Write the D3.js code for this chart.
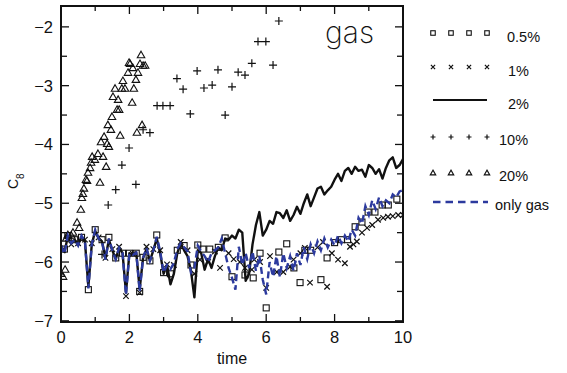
<!DOCTYPE html>
<html><head><meta charset="utf-8">
<script src="https://cdn.jsdelivr.net/npm/d3@7"></script>
<style>
html,body{margin:0;padding:0;background:#fff;}
svg{display:block;}
text{font-family:"Liberation Sans",Arial,sans-serif;fill:#111;}
</style></head>
<body>
<svg id="chart" width="567" height="373"></svg>
<script>
// ---------------- data ----------------
const xTicks = [0, 2, 4, 6, 8, 10];
const yTicks = [-7, -6, -5, -4, -3, -2];
const seriesLabels = ["0.5%", "1%", "2%", "10%", "20%", "only gas"];
const panelLabel = "gas";

// time grid for the two line series (step 0.1 from 0 to 10)
const lineTime = d3.range(0, 101).map(i => +(i / 10).toFixed(1));

// 2% (solid line)
const c2 = [
 -5.72,-5.83,-5.57,-5.68,-5.62,-5.70,-5.57,-5.65,-6.42,-5.70,
 -5.47,-5.60,-5.65,-5.93,-5.62,-5.80,-5.95,-5.76,-5.85,-6.52,
 -5.85,-5.88,-5.84,-6.46,-5.93,-5.78,-5.98,-5.80,-5.60,-5.85,
 -6.20,-6.05,-6.38,-6.20,-5.85,-5.68,-5.80,-5.90,-6.15,-6.60,
 -5.80,-5.85,-6.13,-5.95,-6.10,-5.90,-5.75,-5.80,-5.60,-5.62,
 -5.55,-5.60,-5.45,-5.50,-6.32,-6.20,-5.70,-5.37,-5.15,-5.55,
 -5.45,-5.30,-5.35,-5.15,-5.17,-5.25,-5.12,-5.30,-5.20,-5.06,
 -5.18,-5.00,-4.85,-5.05,-4.90,-4.75,-4.72,-4.85,-4.78,-4.72,
 -4.60,-4.50,-4.62,-4.45,-4.40,-4.50,-4.38,-4.45,-4.43,-4.55,
 -4.35,-4.40,-4.50,-4.42,-4.58,-4.40,-4.27,-4.22,-4.40,-4.35,
 -4.25];

// only gas (blue dashed)
const cGas = [
 -5.72,-5.86,-5.55,-5.68,-5.62,-5.72,-5.55,-5.65,-6.45,-5.70,
 -5.45,-5.60,-5.66,-5.96,-5.60,-5.80,-5.95,-5.76,-5.85,-6.56,
 -5.85,-5.88,-5.84,-6.50,-5.93,-5.76,-5.98,-5.80,-5.57,-5.82,
 -6.18,-6.05,-6.12,-6.02,-5.78,-5.68,-5.75,-5.82,-6.18,-6.10,
 -5.72,-5.82,-5.90,-6.00,-5.85,-5.80,-5.75,-5.60,-5.85,-6.10,
 -6.27,-6.47,-5.74,-6.05,-5.85,-6.10,-5.82,-6.15,-5.90,-6.30,
 -6.55,-6.00,-6.25,-5.90,-6.25,-5.85,-6.10,-5.90,-6.15,-5.85,
 -6.05,-5.75,-5.95,-5.70,-5.85,-5.65,-5.80,-5.60,-5.75,-5.62,
 -5.72,-5.55,-5.68,-5.55,-5.65,-5.45,-5.55,-5.25,-5.35,-5.05,
 -5.20,-4.95,-5.10,-4.90,-5.05,-4.95,-5.00,-4.85,-4.90,-4.80,
 -4.78];

// 0.5% (squares): [time, C8]
const c05 = [
 [0.1,-5.78],[0.2,-5.55],[0.4,-5.62],[0.6,-5.58],[0.8,-6.47],[1.0,-5.45],[1.2,-5.62],
 [1.4,-5.58],[1.6,-5.93],[1.8,-5.85],[2.0,-5.85],[2.2,-5.85],[2.3,-6.50],[2.4,-5.92],
 [2.6,-5.98],[2.8,-5.54],[3.0,-6.18],[3.2,-6.20],[3.4,-5.80],[3.6,-5.72],[3.8,-6.05],
 [4.0,-5.71],[4.15,-5.78],[4.35,-5.78],[4.6,-5.75],[4.8,-5.59],[5.0,-6.25],[5.38,-6.22],
 [5.62,-6.27],[5.82,-5.85],[6.0,-6.78],[6.37,-5.83],[6.6,-5.69],[6.81,-6.10],[6.99,-6.35],
 [7.13,-5.80],[7.3,-5.80],[7.6,-6.30],[7.78,-5.93],[8.0,-5.67],[8.2,-5.62],[8.38,-5.62],
 [8.6,-5.40],[8.8,-5.32],[8.98,-5.15],[9.18,-5.15],[9.39,-5.03],[9.57,-5.03],[9.82,-4.93]];

// 1% (crosses)
const c1 = [
 [0.05,-5.80],[0.2,-5.60],[0.3,-5.70],[0.5,-5.68],[0.7,-5.62],[0.9,-5.68],[1.1,-5.58],
 [1.3,-5.93],[1.5,-5.78],[1.7,-5.74],[1.9,-6.58],[2.1,-5.86],[2.3,-6.52],[2.5,-5.74],
 [2.7,-5.78],[2.9,-5.80],[3.1,-6.04],[3.3,-6.05],[3.5,-5.66],[3.7,-5.80],[3.9,-6.20],
 [4.06,-5.96],[4.3,-6.00],[4.5,-5.82],[4.65,-6.10],[4.9,-5.85],[5.05,-5.95],[5.23,-6.00],
 [5.38,-6.10],[5.58,-6.13],[5.65,-5.96],[5.82,-6.00],[6.0,-6.44],[6.11,-5.90],[6.31,-6.17],
 [6.5,-6.17],[6.7,-6.08],[6.8,-5.96],[7.0,-5.85],[7.13,-5.76],[7.28,-6.35],[7.5,-5.75],
 [7.66,-5.66],[7.78,-6.42],[7.92,-5.85],[8.1,-5.96],[8.3,-6.02],[8.45,-5.74],[8.55,-5.70],
 [8.65,-5.65],[8.8,-5.50],[8.95,-5.42],[9.1,-5.37],[9.27,-5.28],[9.42,-5.25],[9.56,-5.23],
 [9.7,-5.22],[9.86,-5.20],[10.0,-5.20]];

// 10% (plus)
const c10 = [
 [1.2,-5.87],[1.38,-5.03],[1.6,-4.77],[1.78,-4.35],[1.99,-4.06],[2.19,-4.68],[2.4,-3.75],
 [2.6,-3.80],[2.81,-3.34],[2.98,-3.34],[3.19,-3.34],[3.39,-2.88],[3.57,-3.06],[3.78,-3.48],
 [3.98,-2.75],[4.18,-3.04],[4.42,-2.99],[4.59,-2.73],[4.8,-3.50],[5.0,-3.02],[5.18,-2.77],
 [5.38,-2.82],[5.58,-2.62],[5.76,-2.25],[5.99,-2.25],[6.2,-2.65],[6.37,-1.90]];

// 20% (triangles)
const c20 = [
 [0.0,-6.20],[0.06,-6.25],[0.12,-6.13],[0.15,-5.60],[0.2,-5.54],[0.3,-5.55],[0.35,-5.50],
 [0.47,-5.33],[0.53,-5.42],[0.58,-5.11],[0.61,-4.91],[0.64,-4.84],[0.67,-4.75],[0.73,-4.60],
 [0.76,-4.62],[0.79,-4.48],[0.85,-4.40],[0.88,-4.31],[0.91,-4.21],[0.99,-4.26],[1.08,-4.16],
 [1.14,-4.65],[1.17,-3.96],[1.23,-4.21],[1.26,-3.87],[1.32,-4.38],[1.35,-3.99],[1.40,-4.04],
 [1.37,-3.67],[1.46,-3.75],[1.49,-3.53],[1.52,-3.19],[1.58,-3.05],[1.64,-3.41],[1.67,-3.24],
 [1.70,-3.41],[1.73,-3.85],[1.78,-3.05],[1.81,-2.92],[1.87,-3.05],[1.96,-2.78],[1.99,-2.61],
 [2.02,-2.63],[2.08,-3.29],[2.10,-2.70],[2.13,-3.05],[2.19,-2.90],[2.22,-3.80],[2.25,-2.78],
 [2.31,-2.63],[2.34,-2.48],[2.37,-3.67],[2.40,-2.66],[2.46,-2.66]];

// ---------------- layout ----------------
const svg = d3.select("#chart");
const L = 61, R = 403, T = 6, B = 322;
const x = d3.scaleLinear().domain([0, 10]).range([L, R]);
const y = d3.scaleLinear().domain([-7.02, -1.645]).range([B, T]);
const blue = "#2c3a9e";

svg.append("defs").append("clipPath").attr("id", "clip")
  .append("rect").attr("x", L).attr("y", T).attr("width", R - L).attr("height", B - T);

const plot = svg.append("g").attr("clip-path", "url(#clip)");

// marker drawers
function sq(g, s) { g.append("rect").attr("x", -s/2).attr("y", -s/2).attr("width", s).attr("height", s)
  .attr("fill", "none").attr("stroke", "#111").attr("stroke-width", 1.1); }
function cross(g, s) { g.append("path").attr("d", `M${-s/2},${-s/2}L${s/2},${s/2}M${-s/2},${s/2}L${s/2},${-s/2}`)
  .attr("stroke", "#111").attr("stroke-width", 1.2).attr("fill", "none"); }
function plus(g, s) { g.append("path").attr("d", `M${-s/2},0L${s/2},0M0,${-s/2}L0,${s/2}`)
  .attr("stroke", "#111").attr("stroke-width", 1.2).attr("fill", "none"); }
function tri(g, s) { const h = s * 0.87;
  g.append("path").attr("d", `M0,${-h*0.6}L${s/2},${h*0.4}L${-s/2},${h*0.4}Z`)
  .attr("stroke", "#111").attr("stroke-width", 1.1).attr("fill", "none"); }

function markers(data, fn, s) {
  plot.append("g").selectAll("g").data(data).join("g")
    .attr("transform", d => `translate(${x(d[0])},${y(d[1])})`)
    .each(function () { fn(d3.select(this), s); });
}

const line = d3.line().x((d, i) => x(lineTime[i])).y(d => y(d));

// draw
markers(c05, sq, 6);
markers(c1, cross, 5.5);
plot.append("path").datum(c2).attr("d", line).attr("fill", "none")
  .attr("stroke", "#111").attr("stroke-width", 2.4).attr("stroke-linejoin", "round");
markers(c10, plus, 8);
markers(c20, tri, 7.5);
plot.append("path").datum(cGas).attr("d", line).attr("fill", "none")
  .attr("stroke", blue).attr("stroke-width", 2.4).attr("stroke-dasharray", "7,4");

// frame
svg.append("rect").attr("x", L).attr("y", T).attr("width", R - L).attr("height", B - T)
  .attr("fill", "none").attr("stroke", "#111").attr("stroke-width", 2);

// ticks
const xMinor = d3.range(0, 11);
const yMinor = d3.range(-7, -1.5, 0.5);
const tk = svg.append("g").attr("stroke", "#111").attr("stroke-width", 1.3);
xMinor.forEach(v => {
  const len = v % 2 === 0 ? 8 : 5;
  tk.append("line").attr("x1", x(v)).attr("x2", x(v)).attr("y1", B).attr("y2", B - len);
  tk.append("line").attr("x1", x(v)).attr("x2", x(v)).attr("y1", T).attr("y2", T + len);
});
yMinor.forEach(v => {
  const len = Number.isInteger(v) ? 8 : 6;
  tk.append("line").attr("y1", y(v)).attr("y2", y(v)).attr("x1", L).attr("x2", L + len);
  tk.append("line").attr("y1", y(v)).attr("y2", y(v)).attr("x1", R).attr("x2", R - len);
});

// tick labels
const fmt = v => (v < 0 ? "\u2212" + Math.abs(v) : String(v));
svg.append("g").selectAll("text").data(xTicks).join("text")
  .attr("x", d => x(d)).attr("y", 343).attr("text-anchor", "middle")
  .attr("font-size", 16.5).text(d => fmt(d));
svg.append("g").selectAll("text").data(yTicks).join("text")
  .attr("x", 53).attr("y", d => y(d) + 6).attr("text-anchor", "end")
  .attr("font-size", 16.5).text(d => fmt(d));

// axis titles
svg.append("text").attr("x", (L + R) / 2).attr("y", 364).attr("text-anchor", "middle")
  .attr("font-size", 16).text("time");
const yl = svg.append("text").attr("transform", "translate(18,189) rotate(-90)")
  .attr("font-size", 14);
yl.append("tspan").text("C");
yl.append("tspan").attr("dy", 6).attr("font-size", 10).text("8");

// panel label (thin face)
svg.append("text").attr("x", 325).attr("y", 43).attr("font-size", 30)
  .style("font-family", "Inter, 'Open Sans', sans-serif").style("font-weight", 200)
  .attr("fill", "#222").text(panelLabel);

// legend
const legX = [433, 451, 469, 487];
const legY = [33, 67, 100, 137, 173, 202];
const legTextX = [507, 508, 508, 499, 499, 495];
const leg = svg.append("g");
const legFns = [sq, cross, null, plus, tri, null];
const legSizes = [4.5, 4.2, 0, 5, 5.5, 0];
seriesLabels.forEach((lab, i) => {
  if (legFns[i]) {
    legX.forEach(lx => {
      const g = leg.append("g").attr("transform", `translate(${lx},${legY[i]})`);
      legFns[i](g, legSizes[i]);
    });
  } else if (i === 2) {
    leg.append("line").attr("x1", 433).attr("x2", 487).attr("y1", legY[i]).attr("y2", legY[i])
      .attr("stroke", "#111").attr("stroke-width", 2.2);
  } else {
    leg.append("line").attr("x1", 433).attr("x2", 488).attr("y1", legY[i]).attr("y2", legY[i])
      .attr("stroke", blue).attr("stroke-width", 2.4).attr("stroke-dasharray", "7.5,5");
  }
  leg.append("text").attr("x", legTextX[i]).attr("y", legY[i] + 8 + (i <= 2 ? 1 : 0))
    .attr("font-size", 14.5).text(lab);
});
</script>
</body></html>
